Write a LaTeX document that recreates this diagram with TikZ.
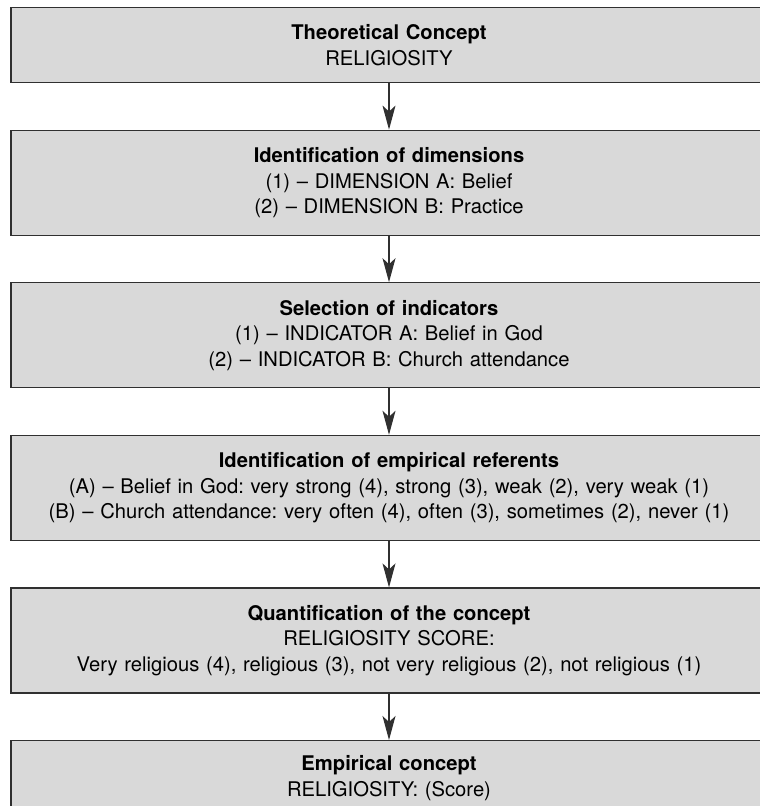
\documentclass[tikz,border=0pt]{standalone}
\usepackage{fontspec}
\setmainfont{TeX Gyre Heros}
\usetikzlibrary{arrows.meta,positioning}
\frenchspacing

\definecolor{boxgray}{HTML}{D9D9D9}
\definecolor{edgegray}{HTML}{303030}

\begin{document}
\begin{tikzpicture}[
  font=\fontsize{10.1}{12.7}\selectfont, >={Stealth[length=12pt,width=6.5pt,inset=3pt]},
  stage/.style={draw=edgegray, fill=boxgray, line width=0.6pt, align=center,
    minimum width=378pt, text width=374pt, minimum height=52.5pt, inner sep=0pt},
  shortstage/.style={stage, minimum height=37.5pt},
  node distance=23.2pt]
  \useasboundingbox (0,0) rectangle (379.5pt,-403pt);
  \node[shortstage, anchor=north] (theory) at (194.5pt,-3.5pt) {\textbf{Theoretical Concept}\\ RELIGIOSITY};
  \node[stage, below=of theory] (dims) {\textbf{Identification of dimensions}\\ (1) -- DIMENSION A: Belief\\ (2) -- DIMENSION B: Practice};
  \node[stage, below=of dims] (ind) {\textbf{Selection of indicators}\\ (1) -- INDICATOR A: Belief in God\\ (2) -- INDICATOR B: Church attendance};
  \node[stage, below=of ind] (refs) {\textbf{Identification of empirical referents}\\ (A) -- Belief in God: very strong (4), strong (3), weak (2), very weak (1)\\ (B) -- Church attendance: very often (4), often (3), sometimes (2), never (1)};
  \node[stage, below=of refs] (quant) {\textbf{Quantification of the concept}\\ RELIGIOSITY SCORE:\\ Very religious (4), religious (3), not very religious (2), not religious (1)};
  \node[shortstage, below=of quant] (emp) {\textbf{Empirical concept}\\ RELIGIOSITY: (Score)};
  \draw[->, line width=0.6pt, edgegray] (theory) -- (dims);
  \draw[->, line width=0.6pt, edgegray] (dims) -- (ind);
  \draw[->, line width=0.6pt, edgegray] (ind) -- (refs);
  \draw[->, line width=0.6pt, edgegray] (refs) -- (quant);
  \draw[->, line width=0.6pt, edgegray] (quant) -- (emp);
\end{tikzpicture}
\end{document}
